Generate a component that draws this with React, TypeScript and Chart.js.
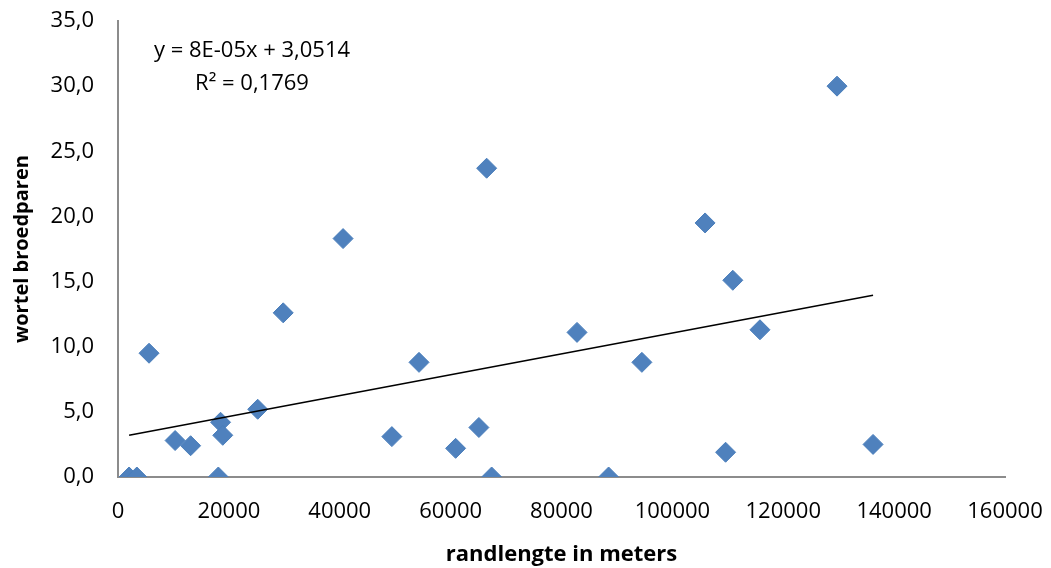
import React, { useEffect, useRef } from "react";
import { Chart, registerables } from "chart.js";

Chart.register(...registerables);

const xValues = [2000, 3400, 5600, 10300, 13100, 18100, 18500, 18900, 25200, 29800, 40600, 49400, 54300, 60900, 65100, 66500, 67400, 82800, 88500, 94500, 105900, 109600, 110900, 115800, 129700, 136200];
const yValues = [0, 0, 9.5, 2.8, 2.4, 0, 4.2, 3.2, 5.2, 12.6, 18.3, 3.1, 8.8, 2.2, 3.8, 23.7, 0, 11.1, 0, 8.8, 19.5, 1.9, 15.1, 11.3, 30.0, 2.5];
const trendX = [2000, 136200];
const trendY = [3.21, 13.95];
const equationLines = ["y = 8E-05x + 3,0514", "R² = 0,1769"];
const xTitle = "randlengte in meters";
const yTitle = "wortel broedparen";

const FONT = "'Open Sans', sans-serif";

const annotationPlugin = {
  id: "eqAnnotation",
  afterDraw(chart: any) {
    const ctx = chart.ctx;
    ctx.save();
    ctx.fillStyle = "#000";
    ctx.font = `22px ${FONT}`;
    ctx.textAlign = "center";
    ctx.textBaseline = "middle";
    ctx.fillText(equationLines[0], 252, 51);
    ctx.fillText(equationLines[1], 252, 84);
    ctx.restore();
  },
};

export default function App() {
  const ref = useRef<HTMLCanvasElement | null>(null);
  useEffect(() => {
    if (!ref.current) return;
    const points = xValues.map((x, i) => ({ x, y: yValues[i] }));
    const trend = trendX.map((x, i) => ({ x, y: trendY[i] }));
    const chart = new Chart(ref.current, {
      type: "scatter",
      data: {
        datasets: [
          {
            data: trend,
            showLine: true,
            borderColor: "#000",
            borderWidth: 1.6,
            pointRadius: 0,
            fill: false,
            order: 0,
          } as any,
          {
            data: points,
            pointStyle: "rectRot",
            pointRadius: 10,
            pointBackgroundColor: "#4F81BD",
            pointBorderColor: "#4A7EBB",
            pointBorderWidth: 1,
            order: 1,
          } as any,
        ],
      },
      options: {
        animation: false,
        responsive: false,
        devicePixelRatio: 1,
        layout: { padding: { top: 21, right: 46, left: 0, bottom: 0 } },
        plugins: { legend: { display: false }, tooltip: { enabled: false } },
        scales: {
          x: {
            type: "linear",
            min: 0,
            max: 160000,
            grid: { display: false, drawTicks: false },
            border: { display: true, color: "#8c8c8c", width: 2 },
            ticks: {
              stepSize: 20000,
              padding: 22,
              color: "#000",
              font: { family: FONT, size: 22 },
              callback: (v: any) => String(v),
              maxRotation: 0,
            },
            title: {
              display: true,
              text: xTitle,
              color: "#000",
              font: { family: FONT, size: 22, weight: "bold" },
              padding: { top: 0, bottom: 0 },
            },
            afterFit: (s: any) => {
              s.height = 91;
              s.paddingLeft = 0;
              s.paddingRight = 0;
            },
          },
          y: {
            type: "linear",
            min: 0,
            max: 35,
            grid: { display: false, drawTicks: false },
            border: { display: true, color: "#8c8c8c", width: 2 },
            ticks: {
              stepSize: 5,
              padding: 24,
              color: "#000",
              font: { family: FONT, size: 22 },
              callback: (v: any) => Number(v).toFixed(1).replace(".", ","),
            },
            title: {
              display: true,
              text: yTitle,
              color: "#000",
              font: { family: FONT, size: 20, weight: "bold" },
              padding: { top: 10, bottom: 0 },
            },
            afterFit: (s: any) => {
              s.width = 118;
              s.paddingTop = 0;
              s.paddingBottom = 0;
            },
          },
        },
      },
      plugins: [annotationPlugin],
    });
    return () => chart.destroy();
  }, []);
  return (
    <div style={{ position: "absolute", left: 0, top: 0, width: 1051, height: 568, background: "#fff" }}>
      <canvas ref={ref} width={1051} height={568} style={{ width: 1051, height: 568, display: "block" }} />
    </div>
  );
}
